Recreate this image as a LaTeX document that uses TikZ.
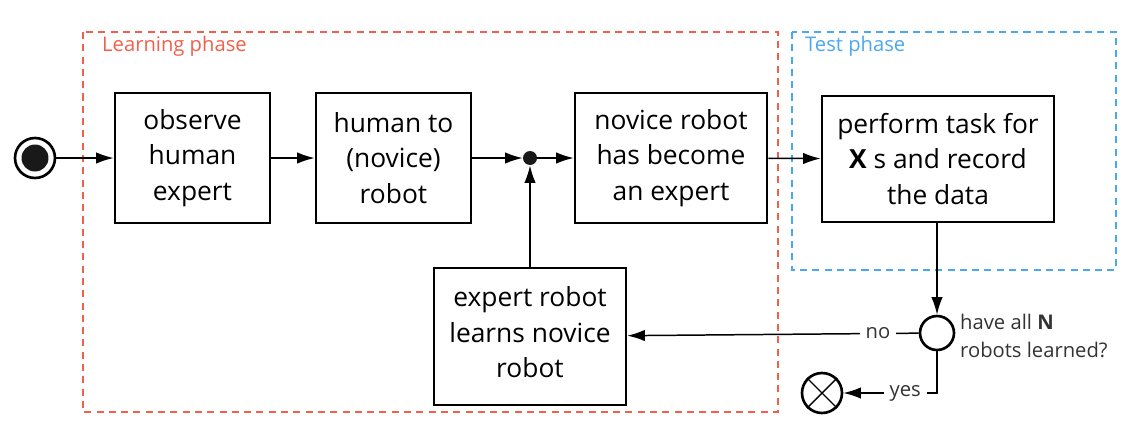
\documentclass[tikz,border=0pt]{standalone}
\usepackage{fontspec}
\setmainfont{Open Sans}
\usetikzlibrary{arrows.meta}
\definecolor{learnred}{HTML}{F0604A}
\definecolor{testblue}{HTML}{4AA8F0}
\definecolor{labelgray}{HTML}{333333}
\tikzset{
  activity/.style={draw, line width=1.5pt, align=center, inner sep=0pt,
    font=\fontsize{15}{20.4}\selectfont},
  flow/.style={line width=0.85pt, -{Latex[length=10pt,width=6.5pt]}},
  phase/.style={dashed, line width=0.7pt, dash pattern=on 4pt off 3pt},
  small/.style={font=\fontsize{11.5}{16}\selectfont, text=labelgray}
}
\begin{document}
\begin{tikzpicture}[x=0.02cm, y=-0.02cm]
    \useasboundingbox (0,0) rectangle (1126,423);

    % phases
    \draw[phase, learnred] (83,32) rectangle (778,412);
    \node[small, text=learnred, anchor=west] (learnlbl) at (96,46) {Learning phase};
    \draw[phase, testblue] (792,32) rectangle (1116,270);
    \node[small, text=testblue, anchor=west] (testlbl) at (799,46) {Test phase};

    % start and end
    \node[circle, draw, line width=1.5pt, minimum size=0.8cm, inner sep=0pt] (start) at (35,158) {};
    \fill[black!90] (start.center) circle (0.27cm);
    \node[circle, draw, line width=1.5pt, minimum size=0.8cm, inner sep=0pt] (stop) at (822,393) {};
    \draw[line width=0.8pt] (stop.north west) -- (stop.south east)
                            (stop.north east) -- (stop.south west);

    % activities
    \node[activity, minimum width=3.1cm, minimum height=2.6cm] (observe) at (192.5,158) {observe\\human\\expert};
    \node[activity, minimum width=3.1cm, minimum height=2.6cm] (transfer) at (393.5,158) {human to\\(novice)\\robot};
    \node[circle, fill=black!90, minimum size=0.28cm, inner sep=0pt] (merge) at (530,158) {};
    \node[activity, minimum width=3.84cm, minimum height=2.6cm] (novice) at (671,158) {novice robot\\has become\\an expert};
    \node[activity, minimum width=4.64cm, minimum height=2.52cm] (perform) at (938,159) {perform task for\\\textbf{X} s and record\\the data};
    \node[activity, minimum width=3.84cm, minimum height=2.74cm, text depth=0.18cm] (teach) at (530,336.5) {expert robot\\learns novice\\robot};
    \node[circle, draw, line width=1.5pt, minimum width=0.64cm, minimum height=0.68cm, inner sep=0pt] (check) at (937,333) {};
    \node[small, align=left, anchor=west] (question) at (954,336) {have all \textbf{N}\\robots learned?};

    % flow
    \draw[flow] (start) -- (observe);
    \draw[flow] (observe) -- (transfer);
    \draw[flow] (transfer) -- (merge);
    \draw[flow] (merge) -- (novice);
    \draw[flow] (teach) -- (merge);
    \draw[flow] (novice) -- (perform);
    \draw[flow] (perform.south -| check) -- (check);
    \draw[flow] (check) -- node[small, fill=white, pos=0.14] (nolbl) {no} (teach);
    \draw[flow] (check.south) |- node[small, fill=white, pos=0.67] (yeslbl) {yes} (stop);
\end{tikzpicture}
\end{document}
